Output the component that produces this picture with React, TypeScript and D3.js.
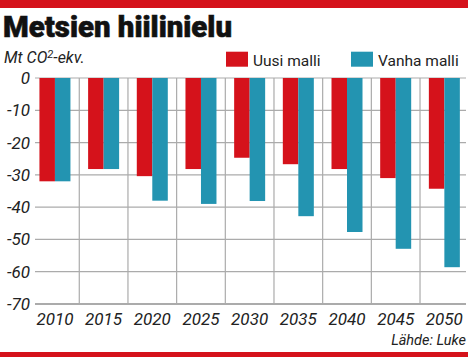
import React from "react";
import * as d3 from "d3";

const years = ["2010", "2015", "2020", "2025", "2030", "2035", "2040", "2045", "2050"];
const uusiMalli = [-32, -28.2, -30.4, -28.2, -24.7, -26.7, -28.2, -31, -34.3];
const vanhaMalli = [-32, -28.2, -38, -39, -38.1, -42.8, -47.7, -52.9, -58.6];
const yTicks = [0, -10, -20, -30, -40, -50, -60, -70];
const seriesNames = ["Uusi malli", "Vanha malli"];

const W = 468;
const H = 357;
const RED = "#d5121b";
const TEAL = "#2394b1";
const GRID = "#ababab";

export default function App() {
  const x = d3.scaleBand<string>().domain(years).range([30.6, 468.7]).paddingInner(0).paddingOuter(0);
  const y = d3.scaleLinear().domain([0, -70]).range([78, 304]);
  const barW = 15.5;
  const font = "Roboto, 'Open Sans', sans-serif";

  return (
    <svg width={W} height={H} style={{ position: "absolute", left: 0, top: 0, background: "#fff" }}>
      <rect x={0} y={0} width={W} height={8} fill={RED} />
      <rect x={0} y={352} width={W} height={5} fill={RED} />
      <text x={3} y={37} fontFamily={font} fontWeight={900} fontSize={29} textLength={229} lengthAdjust="spacingAndGlyphs" fill="#111" stroke="#111" strokeWidth={0.6}>
        Metsien hiilinielu
      </text>
      <text x={4} y={63} fontFamily={font} fontStyle="italic" fontSize={16} fill="#222">
        Mt CO<tspan dy={-5} fontSize={11}>2</tspan><tspan dy={5}>-ekv.</tspan>
      </text>
      {/* legend */}
      {seriesNames.map((n, i) => {
        const lx = i === 0 ? 226 : 351;
        return (
          <g key={n}>
            <rect x={lx} y={51.7} width={22} height={15} fill={i === 0 ? RED : TEAL} />
            <text x={lx + 27} y={66} fontFamily={font} fontSize={15.5} fill="#222">{n}</text>
          </g>
        );
      })}
      {/* horizontal gridlines */}
      {yTicks.map((t) => (
        <g key={t}>
          <line x1={35} x2={466} y1={y(t)} y2={y(t)} stroke={GRID} strokeWidth={t === -70 ? 2 : 1.2} />
          <text x={30} y={y(t) + 6} textAnchor="end" fontFamily={font} fontStyle="italic" fontSize={17} fill="#222">
            {t}
          </text>
        </g>
      ))}
      {/* vertical gridlines */}
      {years.slice(1).map((yr) => (
        <line key={yr} x1={x(yr)!} x2={x(yr)!} y1={y(0)} y2={y(-70)} stroke={GRID} strokeWidth={1.2} />
      ))}
      {/* bars */}
      {years.map((yr, i) => {
        const c = x(yr)! + x.bandwidth() / 2;
        return (
          <g key={yr}>
            <rect x={c - barW} y={y(0)} width={barW} height={y(uusiMalli[i]) - y(0)} fill={RED} />
            <rect x={c} y={y(0)} width={barW} height={y(vanhaMalli[i]) - y(0)} fill={TEAL} />
            <text x={c} y={325} textAnchor="middle" fontFamily={font} fontStyle="italic" fontSize={17} fill="#222">
              {yr}
            </text>
          </g>
        );
      })}
      <text x={466} y={345} textAnchor="end" fontFamily={font} fontStyle="italic" fontSize={14.5} fill="#222">
        Lähde: Luke
      </text>
    </svg>
  );
}
